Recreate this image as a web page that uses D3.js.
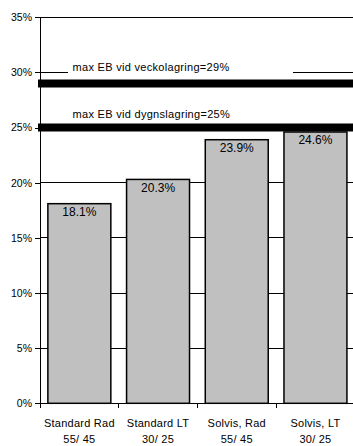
<!DOCTYPE html>
<html><head><meta charset="utf-8">
<script src="https://cdn.jsdelivr.net/npm/d3@7"></script>
<style>
html,body{margin:0;padding:0;background:#fff;}
svg{display:block;font-family:"Liberation Sans",Arial,sans-serif;}
</style></head>
<body>
<svg id="c" width="353" height="446"></svg>
<script>
const categories = [["Standard Rad","55/ 45"],["Standard LT","30/ 25"],["Solvis, Rad","55/ 45"],["Solvis, LT","30/ 25"]];
const values = [18.1, 20.3, 23.9, 24.6];
const refValues = [29, 25];
const refLabels = ["max EB vid veckolagring=29%", "max EB vid dygnslagring=25%"];
const yTicks = [0, 5, 10, 15, 20, 25, 30, 35];

const svg = d3.select("#c");
const mLeft = 40, mRight = 354.8, mTop = 17.3, mBottom = 403.3;

const x = d3.scaleBand().domain(d3.range(categories.length)).range([mLeft, mRight]).paddingInner(0.2).paddingOuter(0.1);
const y = d3.scaleLinear().domain([0, 35]).range([mBottom, mTop]);

// gridlines
svg.append("g").selectAll("line").data(yTicks.filter(d => d > 0)).join("line")
  .attr("x1", mLeft).attr("x2", mRight + 5)
  .attr("y1", d => y(d)).attr("y2", d => y(d))
  .attr("stroke", "#000").attr("stroke-width", 1).attr("shape-rendering", "crispEdges");

// y axis
const yAxis = svg.append("g").attr("transform", `translate(${mLeft},0)`)
  .call(d3.axisLeft(y).tickValues(yTicks).tickFormat(d => d + "%").tickSize(5).tickPadding(3));
yAxis.select(".domain").attr("stroke", "#000").attr("shape-rendering", "crispEdges");
yAxis.selectAll(".tick line").attr("stroke", "#000").attr("shape-rendering", "crispEdges");
yAxis.selectAll("text").attr("font-size", "10.5px").attr("fill", "#000").attr("font-family", "Liberation Sans, Arial, sans-serif");

// x axis baseline and category ticks
svg.append("line").attr("x1", mLeft).attr("x2", mRight + 5).attr("y1", mBottom).attr("y2", mBottom)
  .attr("stroke", "#000").attr("shape-rendering", "crispEdges");
const bounds = d3.range(categories.length + 1).map(i => mLeft + i * x.step());
svg.append("g").selectAll("line").data(bounds).join("line")
  .attr("x1", d => d).attr("x2", d => d).attr("y1", mBottom).attr("y2", mBottom + 5)
  .attr("stroke", "#000").attr("shape-rendering", "crispEdges");

// x labels
const xl = svg.append("g").attr("font-size", "11px").attr("fill", "#000").attr("text-anchor", "middle").attr("letter-spacing", "0.25px");
categories.forEach((c, i) => {
  const cx = x(i) + x.bandwidth() / 2;
  xl.append("text").attr("x", cx).attr("y", 426.5).text(c[0]);
  xl.append("text").attr("x", cx).attr("y", 443).text(c[1]);
});

// bars
svg.append("g").selectAll("rect").data(values).join("rect")
  .attr("x", (d, i) => x(i)).attr("width", x.bandwidth())
  .attr("y", d => y(d)).attr("height", d => mBottom - y(d))
  .attr("fill", "#c0c0c0").attr("stroke", "#000").attr("stroke-width", 1.5);

// bar labels
svg.append("g").selectAll("text").data(values).join("text")
  .attr("x", (d, i) => x(i) + x.bandwidth() / 2)
  .attr("y", d => y(d) + 12.5)
  .attr("text-anchor", "middle").attr("font-size", "12px").attr("fill", "#000")
  .text(d => d.toFixed(1) + "%");

// label boxes and texts
const labelY = [70.5, 118];
refLabels.forEach((t, i) => {
  svg.append("rect").attr("x", 68).attr("y", labelY[i] - 11).attr("width", 225).attr("height", 15).attr("fill", "#fff");
  svg.append("text").attr("x", 72.5).attr("y", labelY[i]).attr("font-size", "11px").attr("letter-spacing", "0.3px").attr("fill", "#000").text(t);
});

// thick reference lines
svg.append("g").selectAll("line").data(refValues).join("line")
  .attr("x1", 38).attr("x2", mRight + 5)
  .attr("y1", d => y(d)).attr("y2", d => y(d))
  .attr("stroke", "#000").attr("stroke-width", 8);
</script>
</body></html>
